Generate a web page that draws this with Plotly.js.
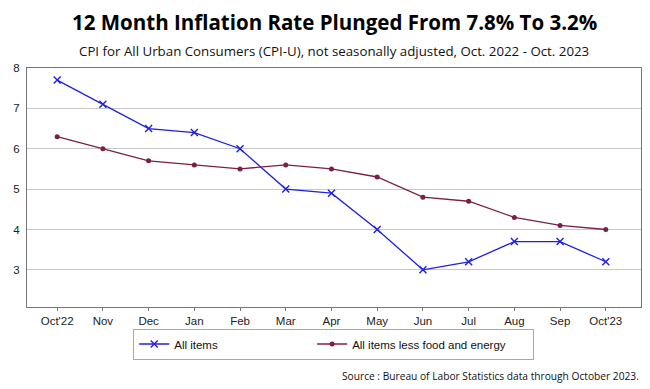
<!DOCTYPE html>
<html><head><meta charset="utf-8">
<script src="https://cdn.plot.ly/plotly-3.0.1.min.js"></script>
<style>body{margin:0;background:#fff}#c{width:650px;height:389px}</style>
</head><body><div id="c"></div>
<script>
const months = ["Oct'22","Nov","Dec","Jan","Feb","Mar","Apr","May","Jun","Jul","Aug","Sep","Oct'23"];
const allItems = [7.7, 7.1, 6.5, 6.4, 6.0, 5.0, 4.9, 4.0, 3.0, 3.2, 3.7, 3.7, 3.2];
const coreItems = [6.3, 6.0, 5.7, 5.6, 5.5, 5.6, 5.5, 5.3, 4.8, 4.7, 4.3, 4.1, 4.0];
const yTicks = [3, 4, 5, 6, 7, 8];
const seriesNames = ["All items", "All items less food and energy"];

const idx = months.map((m, i) => i);
const traces = [
  {x: idx, y: allItems, name: seriesNames[0] + "\u00a0".repeat(28), type: "scatter", mode: "lines+markers",
   line: {color: "#1f1fe8", width: 1.3}, marker: {symbol: "x-thin", size: 7, line: {color: "#1f1fe8", width: 1.4}}},
  {x: idx, y: coreItems, name: seriesNames[1] + "\u00a0".repeat(7), type: "scatter", mode: "lines+markers",
   line: {color: "#7a1f48", width: 1.3}, marker: {symbol: "circle", size: 5, color: "#7a1f48"}}
];
const layout = {
  width: 650, height: 389,
  margin: {l: 27, r: 9, t: 68, b: 82},
  paper_bgcolor: "#fff", plot_bgcolor: "#fff",
  font: {family: "Liberation Sans, Arial, sans-serif", size: 11, color: "#222"},
  showlegend: true,
  legend: {orientation: "h", x: 0.173, xanchor: "left", y: -0.09, yanchor: "top",
    bordercolor: "#aaa", borderwidth: 1, font: {size: 11.5, color: "#111"}, tracegroupgap: 0},
  xaxis: {range: [-0.66, 12.77], tickvals: idx, ticktext: months, showgrid: false,
    showline: true, linecolor: "#777", linewidth: 1, mirror: true, ticks: "outside", ticklen: 3,
    tickcolor: "#777", zeroline: false, fixedrange: true, tickfont: {size: 11.5}},
  yaxis: {range: [2.08, 8], tickvals: yTicks, showgrid: true, gridcolor: "#c8c8c8", gridwidth: 1,
    showline: true, linecolor: "#777", linewidth: 1, mirror: true, ticks: "", zeroline: false,
    fixedrange: true, tickfont: {size: 11.5}, ticklabelstandoff: 4},
  annotations: [
    {text: "<b>12 Month Inflation Rate Plunged From 7.8% To 3.2%</b>", xref: "paper", yref: "paper",
     x: 0.5, y: 1, xanchor: "center", yanchor: "middle", yshift: 46, showarrow: false,
     font: {family: "Open Sans, sans-serif", size: 20.5, color: "#000"}},
    {text: "CPI for All Urban Consumers (CPI-U), not seasonally adjusted, Oct. 2022 - Oct. 2023", xref: "paper", yref: "paper",
     x: 0.5, y: 1, xanchor: "center", yanchor: "middle", yshift: 17, showarrow: false,
     font: {family: "Open Sans, sans-serif", size: 13.3, color: "#111"}},
    {text: "Source : Bureau of Labor Statistics data through October 2023.", xref: "paper", yref: "paper",
     x: 1, y: 0, xanchor: "right", yanchor: "middle", yshift: -69, xshift: 0, showarrow: false,
     font: {family: "Open Sans, sans-serif", size: 10.2, color: "#111"}}
  ]
};
Plotly.newPlot("c", traces, layout, {displayModeBar: false, staticPlot: true});
</script></body></html>
